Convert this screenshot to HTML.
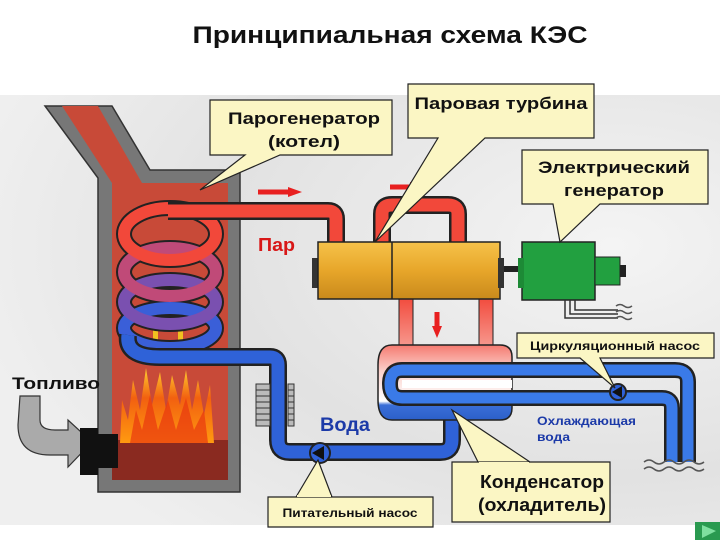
<!DOCTYPE html>
<html><head><meta charset="utf-8"><style>
html,body{margin:0;padding:0;background:#fff}
svg{display:block}
text{font-family:"Liberation Sans",sans-serif;font-weight:bold}
</style></head><body>
<svg width="720" height="540" viewBox="0 0 720 540" xmlns="http://www.w3.org/2000/svg">
<defs>
<radialGradient id="bg" cx="0.85" cy="0.35" r="0.9">
<stop offset="0" stop-color="#f4f4f4"/><stop offset="0.6" stop-color="#e2e2e2"/><stop offset="1" stop-color="#efefef"/>
</radialGradient>
<linearGradient id="gold" x1="0" y1="0" x2="0" y2="1">
<stop offset="0" stop-color="#f6c24a"/><stop offset="0.5" stop-color="#e7a62a"/><stop offset="1" stop-color="#c98a1c"/>
</linearGradient>
<linearGradient id="cond" x1="0" y1="0" x2="0" y2="1">
<stop offset="0" stop-color="#f57a70"/><stop offset="0.35" stop-color="#fbd2cc"/><stop offset="0.75" stop-color="#ffffff"/><stop offset="0.8" stop-color="#3a6fd8"/><stop offset="1" stop-color="#2c5fc8"/>
</linearGradient>
<linearGradient id="redpipe" x1="0" y1="0" x2="0" y2="1">
<stop offset="0" stop-color="#f2483a"/><stop offset="1" stop-color="#f7a096"/>
</linearGradient>
<linearGradient id="flame" x1="0" y1="1" x2="0" y2="0">
<stop offset="0" stop-color="#ff9a10"/><stop offset="0.6" stop-color="#f26010"/><stop offset="1" stop-color="#ffd030"/>
</linearGradient>
</defs>
<rect x="0" y="95" width="720" height="430" fill="url(#bg)"/>
<text x="390" y="43" font-size="24" text-anchor="middle" fill="#111" textLength="395" lengthAdjust="spacingAndGlyphs">Принципиальная схема КЭС</text>

<!-- boiler -->
<path d="M45,106 L112,106 L150,170 L240,170 L240,492 L98,492 L98,178 Z" fill="#777" stroke="#333" stroke-width="1.5"/>
<path d="M62,106 L98,106 L142,183 L228,183 L228,480 L112,480 L112,183 Z" fill="#c84a38"/>
<rect x="112" y="440" width="116" height="40" fill="#8a2a20"/>
<path d="M120,443 L122,400 L128,420 L133,380 L140,410 L146,368 L152,405 L160,372 L166,410 L172,375 L180,405 L186,370 L192,410 L198,380 L204,415 L210,385 L214,443 Z" fill="url(#flame)"/>
<path d="M130,443 L136,410 L142,430 L150,395 L158,430 L168,400 L176,430 L186,398 L194,430 L204,410 L208,443 Z" fill="#e83810" opacity="0.7"/>
<rect x="153" y="320" width="5" height="40" fill="#f0c020"/><rect x="178" y="320" width="5" height="40" fill="#f0c020"/>
<!-- coil -->
<g fill="none" stroke="#222" stroke-width="16">
<ellipse cx="170" cy="328" rx="46" ry="20"/><ellipse cx="170" cy="302" rx="46" ry="22"/><ellipse cx="170" cy="272" rx="46" ry="24"/><ellipse cx="170" cy="234" rx="46" ry="26"/>
</g>
<g fill="none" stroke-width="12">
<ellipse cx="170" cy="328" rx="46" ry="20" stroke="#3a5fd8"/><ellipse cx="170" cy="302" rx="46" ry="22" stroke="#7a50b0"/><ellipse cx="170" cy="272" rx="46" ry="24" stroke="#c04a78"/><ellipse cx="170" cy="234" rx="46" ry="26" stroke="#f2483a"/>
</g>
<!-- blue feed pipe -->
<path d="M128,335 Q125,357 160,357 L270,357 Q278,357 278,365 L278,440 Q278,452 290,452 L440,452 Q452,452 452,440 L452,410" fill="none" stroke="#222" stroke-width="18"/>
<path d="M128,335 Q125,357 160,357 L270,357 Q278,357 278,365 L278,440 Q278,452 290,452 L440,452 Q452,452 452,440 L452,410" fill="none" stroke="#2f62d8" stroke-width="13"/>
<g stroke="#333" stroke-width="1" fill="#bbb">
<rect x="256" y="384" width="14" height="42"/><rect x="288" y="384" width="6" height="42"/>
</g>
<g stroke="#333" stroke-width="1"><path d="M256,390H270M256,396H270M256,402H270M256,408H270M256,414H270M256,420H270M288,390H294M288,396H294M288,402H294M288,408H294M288,414H294M288,420H294"/></g>
<!-- red steam pipes -->
<path d="M168,211 L328,211 Q336,211 336,219 L336,245" fill="none" stroke="#222" stroke-width="18"/>
<path d="M168,211 L328,211 Q336,211 336,219 L336,245" fill="none" stroke="#f2483a" stroke-width="13"/>
<path d="M382,245 L382,214 Q382,205 392,205 L448,205 Q458,205 458,214 L458,245" fill="none" stroke="#222" stroke-width="18"/>
<path d="M382,245 L382,214 Q382,205 392,205 L448,205 Q458,205 458,214 L458,245" fill="none" stroke="#f2483a" stroke-width="13"/>
<path d="M258,192 L290,192" stroke="#e82020" stroke-width="5"/><path d="M288,187 L302,192 L288,197Z" fill="#e82020"/>
<path d="M390,187 L412,187" stroke="#e82020" stroke-width="5"/><path d="M410,182 L424,187 L410,192Z" fill="#e82020"/>
<text x="258" y="251" font-size="18" fill="#d81818" textLength="37" lengthAdjust="spacingAndGlyphs">Пар</text>
<rect x="399" y="296" width="14" height="55" fill="url(#redpipe)" stroke="#222"/>
<rect x="479" y="296" width="14" height="55" fill="url(#redpipe)" stroke="#222"/>
<path d="M437,312 L437,328" stroke="#e82020" stroke-width="5"/><path d="M432,326 L437,338 L442,326Z" fill="#e82020"/>
<!-- turbine -->
<rect x="312" y="258" width="8" height="30" fill="#333"/>
<rect x="318" y="242" width="182" height="57" fill="url(#gold)" stroke="#222" stroke-width="1.5"/>
<line x1="392" y1="242" x2="392" y2="299" stroke="#222" stroke-width="1.5"/>
<rect x="498" y="258" width="6" height="30" fill="#333"/>
<rect x="504" y="266" width="20" height="6" fill="#222"/>
<!-- generator -->
<rect x="522" y="242" width="73" height="58" fill="#22a040" stroke="#222" stroke-width="1.5"/>
<rect x="518" y="258" width="6" height="30" fill="#1d8a36"/>
<rect x="595" y="257" width="25" height="28" fill="#22a040" stroke="#222"/>
<rect x="620" y="265" width="6" height="12" fill="#222"/>
<path d="M565,300 V318 H618 M570,300 V314 H618 M575,300 V310 H618" fill="none" stroke="#333" stroke-width="1.5"/>
<path d="M616,306 q4,-3 8,0 q4,3 8,0 M616,312 q4,-3 8,0 q4,3 8,0 M616,318 q4,-3 8,0 q4,3 8,0" fill="none" stroke="#555" stroke-width="1.5"/>
<!-- condenser -->
<path d="M392,345 L500,345 Q512,345 512,357 L512,408 Q512,420 500,420 L392,420 Q378,420 378,400 L378,365 Q378,345 392,345Z" fill="url(#cond)" stroke="#222" stroke-width="1.5"/>
<path d="M600,370 L402,370 Q390,370 390,384 Q390,398 402,398 L662,398 Q672,398 672,408 L672,462" fill="none" stroke="#222" stroke-width="16"/>
<path d="M600,370 L675,370 Q688,370 688,382 L688,462" fill="none" stroke="#222" stroke-width="16"/>
<path d="M600,370 L402,370 Q390,370 390,384 Q390,398 402,398 L662,398 Q672,398 672,408 L672,462" fill="none" stroke="#3a7ae8" stroke-width="11"/>
<path d="M600,370 L675,370 Q688,370 688,382 L688,462" fill="none" stroke="#3a7ae8" stroke-width="11"/>
<rect x="402" y="380" width="110" height="8" fill="#fff"/>
<circle cx="618" cy="392" r="8" fill="#2f62d8" stroke="#222" stroke-width="2"/><path d="M612,392 L622,386 L622,398Z" fill="#111"/>
<path d="M644,462 q5,-4 10,0 q5,4 10,0 q5,-4 10,0 q5,4 10,0 q5,-4 10,0 q5,4 10,0 M644,469 q5,-4 10,0 q5,4 10,0 q5,-4 10,0 q5,4 10,0 q5,-4 10,0 q5,4 10,0" fill="none" stroke="#555" stroke-width="1.5"/>
<circle cx="320" cy="453" r="10" fill="#2f62d8" stroke="#222" stroke-width="2"/><path d="M312,453 L324,446 L324,460Z" fill="#111"/>
<text x="320" y="431" font-size="19" fill="#1c3aa8" textLength="50" lengthAdjust="spacingAndGlyphs">Вода</text>
<text x="537" y="425" font-size="12" fill="#1c3aa8" textLength="99" lengthAdjust="spacingAndGlyphs">Охлаждающая</text>
<text x="537" y="441" font-size="12" fill="#1c3aa8" textLength="33" lengthAdjust="spacingAndGlyphs">вода</text>
<text x="12" y="389" font-size="17" fill="#111" textLength="88" lengthAdjust="spacingAndGlyphs">Топливо</text>
<path d="M20,396 L40,396 L40,420 Q40,430 55,430 L68,430 L68,420 L92,442 L68,467 L68,455 L50,455 Q18,455 18,425 Z" fill="#aaa" stroke="#333" stroke-width="1.2"/>
<path d="M80,428 L98,428 L98,434 L118,434 L118,468 L98,468 L98,475 L80,475 Z" fill="#111"/>
<!-- callouts -->
<g fill="#fbf6c4" stroke="#222" stroke-width="1.2">
<path d="M210,100 L392,100 L392,155 L280,155 L200,190 L245,155 L210,155 Z"/>
<path d="M408,84 L594,84 L594,138 L485,138 L375,242 L438,138 L408,138 Z"/>
<path d="M522,150 L708,150 L708,204 L600,204 L560,242 L553,204 L522,204 Z"/>
<path d="M517,333 L714,333 L714,358 L600,358 L615,388 L580,358 L517,358 Z"/>
<path d="M268,497 L433,497 L433,527 L268,527 Z M296,497 L318,460 L332,497"/>
<path d="M452,462 L610,462 L610,522 L452,522 Z M478,462 L452,410 L530,462"/>
</g>
<path d="M297,496 L331,496" stroke="#fbf6c4" stroke-width="2"/>
<path d="M479,463 L529,463" stroke="#fbf6c4" stroke-width="2"/>
<text x="304" y="124" font-size="17" text-anchor="middle" fill="#111" textLength="152" lengthAdjust="spacingAndGlyphs">Парогенератор</text>
<text x="304" y="147" font-size="17" text-anchor="middle" fill="#111" textLength="72" lengthAdjust="spacingAndGlyphs">(котел)</text>
<text x="501" y="109" font-size="17" text-anchor="middle" fill="#111" textLength="173" lengthAdjust="spacingAndGlyphs">Паровая турбина</text>
<text x="614" y="173" font-size="17" text-anchor="middle" fill="#111" textLength="152" lengthAdjust="spacingAndGlyphs">Электрический</text>
<text x="614" y="196" font-size="17" text-anchor="middle" fill="#111" textLength="100" lengthAdjust="spacingAndGlyphs">генератор</text>
<text x="615" y="350" font-size="12" text-anchor="middle" fill="#111" textLength="170" lengthAdjust="spacingAndGlyphs">Циркуляционный насос</text>
<text x="350" y="517" font-size="12" text-anchor="middle" fill="#111" textLength="135" lengthAdjust="spacingAndGlyphs">Питательный насос</text>
<text x="542" y="488" font-size="18" text-anchor="middle" fill="#111" textLength="124" lengthAdjust="spacingAndGlyphs">Конденсатор</text>
<text x="542" y="511" font-size="18" text-anchor="middle" fill="#111" textLength="128" lengthAdjust="spacingAndGlyphs">(охладитель)</text>
<rect x="695" y="522" width="25" height="18" fill="#2a9a50"/>
<path d="M702,525 L716,531 L702,538Z" fill="#7fe0a0"/>
</svg>
</body></html>
